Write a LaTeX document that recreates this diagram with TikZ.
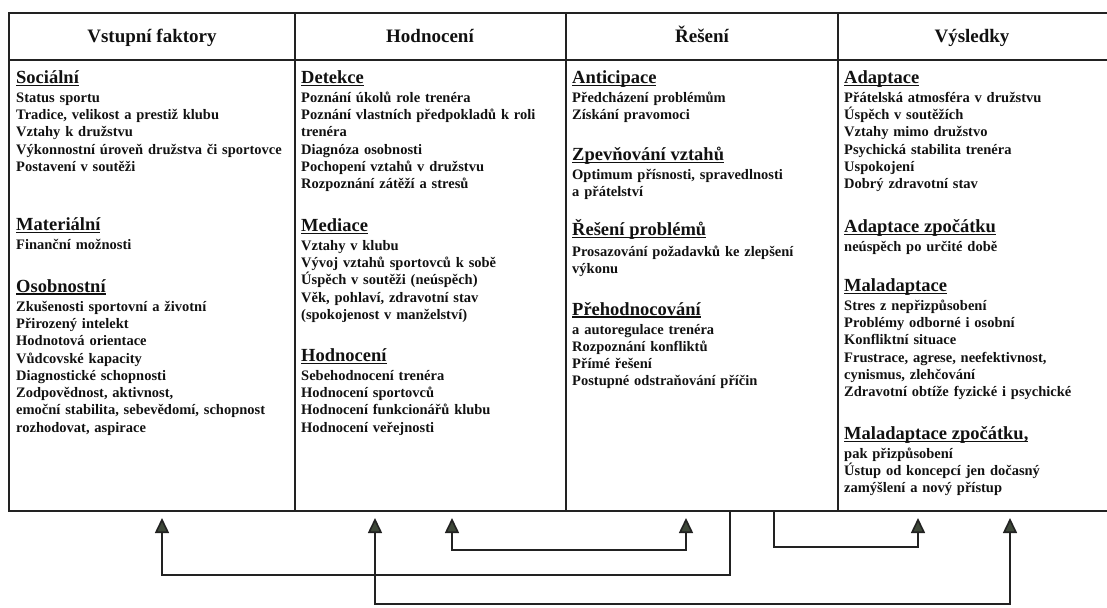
\documentclass[tikz,border=0pt]{standalone}
\usepackage{fontspec}
\setmainfont{Liberation Serif}
\usepackage{tikz}
\usetikzlibrary{arrows.meta}
\definecolor{inkline}{HTML}{222222}
\definecolor{inktext}{HTML}{111111}
\definecolor{tipfill}{HTML}{3E4839}
\newcommand\bodyfont{\bfseries\fontsize{14.5}{17.3}\selectfont\lineskiplimit=-100pt\relax}
\newcommand\uhead[1]{\leavevmode{\fontsize{18.5}{20}\selectfont\setbox0\hbox{#1}\rlap{\rule[-2.4pt]{\wd0}{1.3pt}}\box0}}

\begin{document}
\begin{tikzpicture}[x=1pt,y=-1pt,
  frame/.style={draw=inkline,line width=1.4pt},
  colhead/.style={font=\bfseries\fontsize{19}{20}\selectfont,text=inktext,inner sep=0pt,anchor=base},
  colbody/.style={font=\bodyfont,text=inktext,align=left,text width=290pt,inner sep=0pt,anchor=base west},
  link/.style={draw=inkline,line width=1.6pt},
  onearrow/.style={-{Triangle[width=14pt,length=15pt,fill=tipfill]}},
  twoarrow/.style={{Triangle[width=14pt,length=15pt,fill=tipfill]}-{Triangle[width=14pt,length=15pt,fill=tipfill]}}]
\useasboundingbox (0,0) rectangle (1107,607);

% table
\draw[frame] (1107,13) -- (9,13) -- (9,511) -- (1107,511);
\draw[frame] (9,60) -- (1107,60);
\foreach \x in {295,566,838} \draw[frame] (\x,13) -- (\x,511);

% column titles
\node[colhead] (hVst) at (152,43) {Vstupní faktory};
\node[colhead] (hHod) at (430,43) {Hodnocení};
\node[colhead] (hRes) at (702,43) {Řešení};
\node[colhead] (hVys) at (972,43) {Výsledky};

% column contents
\node[colbody] (bVst) at (16,83.5) {\uhead{Sociální}\\[1.5pt]
Status sportu\\
Tradice, velikost a prestiž klubu\\
Vztahy k družstvu\\
Výkonnostní úroveň družstva či sportovce\\
Postavení v soutěži\\[41.7pt]
\uhead{Materiální}\\[1.5pt]
Finanční možnosti\\[25.7pt]
\uhead{Osobnostní}\\[1.5pt]
Zkušenosti sportovní a životní\\
Přirozený intelekt\\
Hodnotová orientace\\
Vůdcovské kapacity\\
Diagnostické schopnosti\\
Zodpovědnost, aktivnost,\\
emoční stabilita, sebevědomí, schopnost\\
rozhodovat, aspirace};

\node[colbody] (bHod) at (301,83.5) {\uhead{Detekce}\\[1.5pt]
Poznání úkolů role trenéra\\
Poznání vlastních předpokladů k roli\\
trenéra\\
Diagnóza osobnosti\\
Pochopení vztahů v družstvu\\
Rozpoznání zátěží a stresů\\[25.4pt]
\uhead{Mediace}\\[1.5pt]
Vztahy v klubu\\
Vývoj vztahů sportovců k sobě\\
Úspěch v soutěži (neúspěch)\\
Věk, pohlaví, zdravotní stav\\
(spokojenost v manželství)\\[24.7pt]
\uhead{Hodnocení}\\[1.5pt]
Sebehodnocení trenéra\\
Hodnocení sportovců\\
Hodnocení funkcionářů klubu\\
Hodnocení veřejnosti};

\node[colbody] (bRes) at (572,83.5) {\uhead{Anticipace}\\[1.5pt]
Předcházení problémům\\
Získání pravomoci\\[23.7pt]
\uhead{Zpevňování vztahů}\\[1.5pt]
Optimum přísnosti, spravedlnosti\\
a přátelství\\[21.7pt]
\uhead{Řešení problémů}\\[3pt]
Prosazování požadavků ke zlepšení\\
výkonu\\[24.6pt]
\uhead{Přehodnocování}\\[1.5pt]
a autoregulace trenéra\\
Rozpoznání konfliktů\\
Přímé řešení\\
Postupné odstraňování příčin};

\node[colbody] (bVys) at (844,83.5) {\uhead{Adaptace}\\[1.5pt]
Přátelská atmosféra v družstvu\\
Úspěch v soutěžích\\
Vztahy mimo družstvo\\
Psychická stabilita trenéra\\
Uspokojení\\
Dobrý zdravotní stav\\[26.4pt]
\uhead{Adaptace zpočátku}\\[1.5pt]
neúspěch po určité době\\[22.9pt]
\uhead{Maladaptace}\\[1.5pt]
Stres z nepřizpůsobení\\
Problémy odborné i osobní\\
Konfliktní situace\\
Frustrace, agrese, neefektivnost,\\
cynismus, zlehčování\\
Zdravotní obtíže fyzické i psychické\\[25.4pt]
\uhead{Maladaptace zpočátku,}\\[1.5pt]
pak přizpůsobení\\
Ústup od koncepcí jen dočasný\\
zamýšlení a nový přístup};

% feedback links under the table
\coordinate (pA) at (730,511);
\coordinate (qA) at (162,518);
\coordinate (pB) at (375,518);
\coordinate (qB) at (1010,518);
\coordinate (pC) at (452,518);
\coordinate (qC) at (686,518);
\coordinate (pD) at (774,511);
\coordinate (qD) at (918,518);
\draw[link,onearrow] (pA) -- ++(0,64) -| (qA);
\draw[link,twoarrow] (pB) -- ++(0,86) -| (qB);
\draw[link,twoarrow] (pC) -- ++(0,32) -| (qC);
\draw[link,onearrow] (pD) -- ++(0,36) -| (qD);
\end{tikzpicture}
\end{document}
